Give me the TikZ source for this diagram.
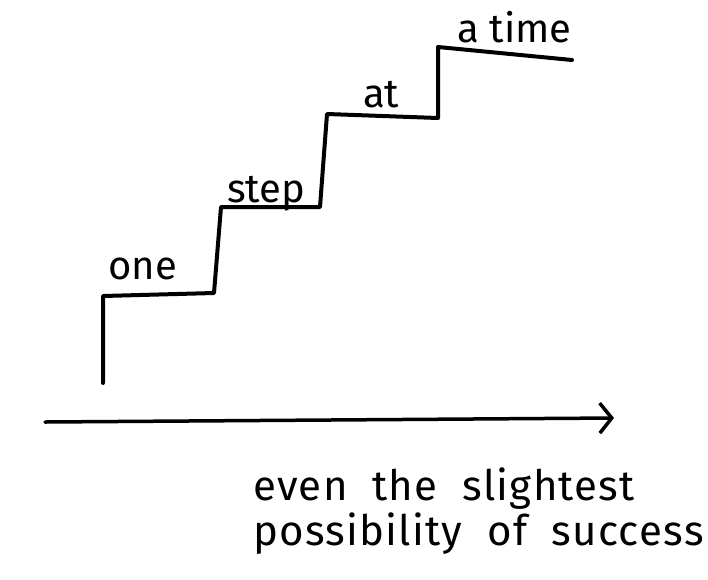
\documentclass[tikz,border=0pt]{standalone}
\usepackage{fontspec}
\setmainfont{Fira Sans}
\newfontfamily\capfont{Fira Sans}[LetterSpace=3,WordSpace=2]
\usetikzlibrary{arrows.meta,positioning}

\begin{document}
\begin{tikzpicture}[
  x=1pt, y=-1pt,
  stair/.style={
    line width=4pt,
    line join=round,
    line cap=round
  },
  word/.style={
    anchor=base west,
    inner sep=0pt,
    font=\fontsize{40}{44}\selectfont
  },
  caption/.style={
    word,
    font=\capfont\fontsize{42}{46}\selectfont
  },
  axis/.style={-{Straight Barb[length=12pt,width=30pt,line width=3.5pt]},line width=3.5pt,line cap=round}
]
  \useasboundingbox (0,0) rectangle (708,579);
  % staircase corners
  \coordinate (floor) at (103,383);
  \coordinate (oneL) at (103,296);
  \coordinate (oneR) at (214,293);
  \coordinate (stepL) at (221,207);
  \coordinate (stepR) at (320,207);
  \coordinate (atL) at (327,114);
  \coordinate (atR) at (438,118);
  \coordinate (timeL) at (438,47);
  \coordinate (timeR) at (572,60);
  \draw[stair] (floor) -- (oneL) -- (oneR) -- (stepL) -- (stepR) -- (atL) -- (atR) -- (timeL) -- (timeR);
  % words on the treads
  \node[word] (one) at (108,279) {one};
  \node[word] (step) at (227,202) {step};
  \node[word] (at) at (363,107) {at};
  \node[word] (time) at (457,42) {a time};
  % axis
  \coordinate (axisL) at (45,422);
  \coordinate (axisR) at (614,418);
  \draw[axis] (axisL) -- (axisR);
  \node[caption] (even) at (253,500) {even the slightest};
  \node[caption] (chance) at (253,545) {possibility of success};
\end{tikzpicture}
\end{document}
